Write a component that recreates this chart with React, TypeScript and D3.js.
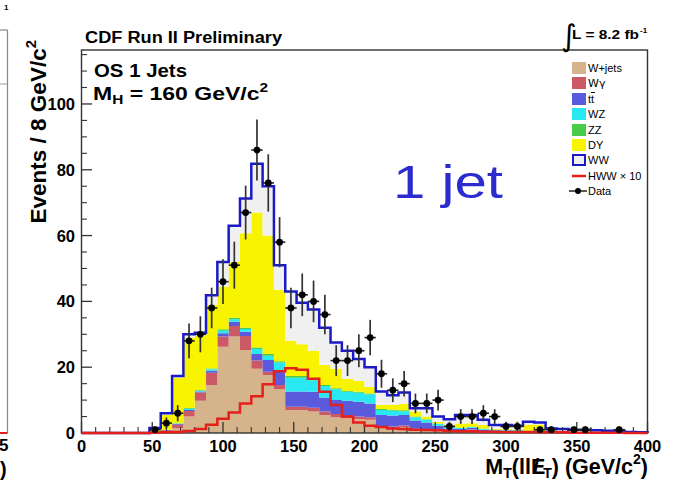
import React from 'react';
import * as d3 from 'd3';

// 8 GeV bins from 0 to 400 (lower edges)
const binLow = d3.range(0, 400, 8);
const binEdges = d3.range(0, 401, 8);

// Stacked backgrounds (events per bin), bottom to top
const wjets = [0,0,0,0,0,0, 0,0.3,1.5,5.0,9.8,14.6,26.2,29.3,25.2,19.5, 17.6,13.4,7.0,7.0,6.5,5.5,4.8,4.5,4.2,4.0, 1.5,1.5,1.8,1.0,0.8,0.5,0.3,0.3,1.0,0.2, 0.2,0.1,0.1,0.1,0.1,0.1,0,0,0,0, 0,0,0,0];
const wgamma = [0,0,0,0,0,0, 0,0.5,1.0,1.7,2.5,3.7,3.1,3.2,4.3,2.5, 1.0,1.2,1.0,1.0,1.2,1.0,1.0,1.0,0.8,0.8, 0.5,0.5,0.5,0.3,0.3,0.2,0.1,0.1,0.1,0.1, 0.1,0.1,0.1,0.1,0.1,0,0.1,0.1,0,0, 0,0,0,0];
const ttbar = [0,0,0,0,0,0, 0,0.1,0.2,0.3,0.3,0.6,1.0,1.3,1.3,2.0, 3.6,4.0,4.6,4.6,4.8,4.3,4.2,4.3,4.5,4.2, 3.5,3.3,3.2,2.5,2.1,1.5,1.0,0.8,0.5,0.7, 0.5,0.5,0.4,0.3,0.3,0.3,0.2,0.2,0.2,0.2, 0.1,0.1,0.1,0];
const wz = [0,0,0,0,0,0, 0,0.1,0.2,0.4,0.3,0.5,0.8,0.8,0.8,1.5, 1.3,2.8,4.2,4.2,3.5,3.5,3.3,2.7,2.7,2.8, 1.5,1.5,1.1,1.0,0.8,0.6,0.4,0.3,0.2,0.3, 0.2,0.2,0.2,0.1,0.1,0.1,0.1,0,0.1,0, 0.1,0,0,0];
const zz = [0,0,0,0,0,0, 0,0,0.1,0.2,0.2,0.2,0.4,0.4,0.4,0.5, 0.5,0.4,0.5,0.5,0.5,0.3,0.3,0.3,0.3,0.2, 0.3,0.3,0.3,0.2,0.2,0.1,0.1,0.1,0.1,0.1, 0.1,0.1,0.1,0.1,0.1,0,0,0,0,0, 0,0,0,0];
const dy = [0,0,0,0,0,0, 1.0,4.5,13.8,21.4,16.4,19.4,13.0,17.0,28.7,41.0, 36.0,21.7,10.7,9.7,8.5,6.1,5.9,3.7,3.3,2.0, 1.2,1.4,1.9,1.5,0.8,0.5,0.6,1.3,1.1,1.0, 0.2,0.2,0.1,1.9,1.9,0.2,0.1,0.1,0.1,0.1, 0.1,0.1,0,0.1];
const ww = [0,0,0,0,0,0, 0.5,0.5,0.5,1.0,1.0,2.9,7.5,11.0,10.6,14.8, 15.0,7.5,15.0,12.6,12.5,11.3,8.0,8.5,6.7,6.0, 4.1,3.0,3.5,1.0,2.5,1.6,1.7,2.6,2.5,1.6, 1.1,1.2,1.2,0.8,0.6,0.7,0.7,0.6,0.6,0.5, 0.4,0.4,0.2,0.1];

// Signal (x10)
const hww10 = [0,0,0,0,0,0, 0.1,0.2,0.3,0.6,1.2,2.5,4.3,6.2,9.0,11.2, 14.8,18.8,19.7,19.2,16.5,12.5,8.5,5.0,3.2,2.2, 1.8,1.4,1.2,1.0,0.9,0.8,0.6,0.5,0.5,0.4, 0.4,0.3,0.3,0.3,0.2,0.2,0.2,0.1,0.1,0.1, 0.1,0.1,0,0];

// Observed data (events per bin)
const dataCounts = [0,0,0,0,0,0, 1,3,6,28,30,38,46,51,67,86, 76,58,38,42,40,36,22,22,25,29, 18,13,15,9,9,10,2,5,5,6, 5,2,2,0,1,1,0,1,1,0, 0,1,0,0];

const seriesKeys = ['wjets', 'wgamma', 'ttbar', 'wz', 'zz', 'dy', 'ww'];
const seriesValues = [wjets, wgamma, ttbar, wz, zz, dy, ww];
const seriesColors = ['#d5b48c', '#cc5a66', '#5a5adc', '#2ae8f2', '#48cc48', '#f8f400', '#f0f0f0'];

const legendLabels = ['W+jets', 'Wγ', 'tt', 'WZ', 'ZZ', 'DY', 'WW', 'HWW × 10', 'Data'];

const yMajorTicks = [0, 20, 40, 60, 80, 100];
const xMajorTicks = [0, 50, 100, 150, 200, 250, 300, 350, 400];

const FONT = '"Liberation Sans", Arial, Helvetica, sans-serif';

export default function App() {
  const W = 674, H = 486;
  const x = d3.scaleLinear().domain([0, 400]).range([81.5, 647.5]);
  const y = d3.scaleLinear().domain([0, 116.4]).range([433, 50]);

  const rows = binLow.map((b, i) => {
    const r: any = { low: b };
    seriesKeys.forEach((k, j) => { r[k] = seriesValues[j][i]; });
    return r;
  });
  const stacked = d3.stack().keys(seriesKeys)(rows);

  const area = d3.area<[number, number, number]>()
    .x(d => x(d[0]))
    .y0(d => y(d[1]))
    .y1(d => y(d[2]))
    .curve(d3.curveStepAfter);

  const layerPoints = (layer: any): [number, number, number][] =>
    binEdges.map((e, i) => {
      const j = Math.min(i, binLow.length - 1);
      return [e, layer[j][0], layer[j][1]];
    });

  const stepLine = d3.line<[number, number]>()
    .x(d => x(d[0]))
    .y(d => y(d[1]))
    .curve(d3.curveStepAfter);

  const histPoints = (vals: number[]): [number, number][] => {
    const pts: [number, number][] = binEdges.map((e, i) => [e, vals[Math.min(i, vals.length - 1)]]);
    pts.push([400, 0]);
    return pts;
  };

  const totals = binLow.map((_, i) => seriesValues.reduce((s, v) => s + v[i], 0));

  const yMinor = d3.range(0, 116, 5).filter(v => v % 20 !== 0);
  const xMinor = d3.range(0, 401, 10).filter(v => v % 50 !== 0);

  const legendY = [68, 83, 99, 114, 130, 145, 160, 176, 191];
  const lgX = 572;

  return (
    <svg width={W} height={H} style={{ position: 'absolute', left: 0, top: 0, background: '#fff' }} fontFamily={FONT}>
      <rect x={0} y={0} width={W} height={H} fill="#fff" />

      {/* remnants of the neighbouring plot on the left */}
      <line x1={7.5} y1={30} x2={7.5} y2={433} stroke="#888" strokeWidth={1.2} />
      <line x1={0} y1={30} x2={7.5} y2={30} stroke="#888" strokeWidth={1.2} />
      <line x1={0} y1={84} x2={7.5} y2={84} stroke="#999" strokeWidth={1} />
      <line x1={0} y1={433} x2={7.5} y2={433} stroke="#e02020" strokeWidth={2} />
      <text x={4} y={10} fontSize={8} fontWeight="bold">1</text>
      <text x={-1} y={451} fontSize={17} fontWeight="bold">5</text>
      <text x={0} y={476} fontSize={20} fontWeight="bold">)</text>

      {/* stacked histograms */}
      {stacked.map((layer, k) => (
        <path key={seriesKeys[k]} d={area(layerPoints(layer)) || ''} fill={seriesColors[k]} stroke="none" />
      ))}

      {/* WW (total) outline */}
      <path d={stepLine(histPoints(totals)) || ''} fill="none" stroke="#1a1ac8" strokeWidth={2.5} />

      {/* frame */}
      <rect x={81.5} y={50} width={566} height={383} fill="none" stroke="#333" strokeWidth={1.4} />

      {/* y ticks */}
      {yMajorTicks.map(v => (
        <g key={'ym' + v}>
          <line x1={81.5} x2={92} y1={y(v)} y2={y(v)} stroke="#333" strokeWidth={1.3} />
          <text x={75} y={y(v) + 6} fontSize={16.5} fontWeight="bold" textAnchor="end">{v}</text>
        </g>
      ))}
      {yMinor.map(v => (
        <line key={'yn' + v} x1={81.5} x2={87} y1={y(v)} y2={y(v)} stroke="#333" strokeWidth={1.1} />
      ))}

      {/* x ticks */}
      {xMajorTicks.map(v => (
        <g key={'xm' + v}>
          <line x1={x(v)} x2={x(v)} y1={433} y2={422} stroke="#333" strokeWidth={1.3} />
          <text x={x(v)} y={452} fontSize={16.5} fontWeight="bold" textAnchor="middle">{v}</text>
        </g>
      ))}
      {xMinor.map(v => (
        <line key={'xn' + v} x1={x(v)} x2={x(v)} y1={433} y2={427} stroke="#333" strokeWidth={1.1} />
      ))}

      {/* signal x10 */}
      <path d={stepLine(histPoints(hww10)) || ''} fill="none" stroke="#e3201c" strokeWidth={2.5} />

      {/* data */}
      {dataCounts.map((n, i) => {
        if (n <= 0) return null;
        const c = binLow[i] + 4;
        const e = Math.sqrt(n);
        return (
          <g key={'d' + i}>
            <line x1={x(c)} x2={x(c)} y1={y(n + e)} y2={y(Math.max(0, n - e))} stroke="#333" strokeWidth={1.7} />
            <line x1={x(c - 4)} x2={x(c + 4)} y1={y(n)} y2={y(n)} stroke="#222" strokeWidth={1.6} />
            <circle cx={x(c)} cy={y(n)} r={3.4} fill="#000" />
          </g>
        );
      })}

      {/* titles */}
      <text x={85} y={43} fontSize={16} fontWeight="bold" textLength={197} lengthAdjust="spacingAndGlyphs">CDF Run II Preliminary</text>
      <text x={94} y={77} fontSize={17.5} fontWeight="bold" textLength={93} lengthAdjust="spacingAndGlyphs">OS 1 Jets</text>
      <text x={93} y={100} fontSize={18} fontWeight="bold" textLength={175} lengthAdjust="spacingAndGlyphs">
        M<tspan fontSize={12} dy={4}>H</tspan><tspan dy={-4}> = 160 GeV/c</tspan><tspan fontSize={12} dy={-8}>2</tspan>
      </text>

      {/* luminosity */}
      <text x={561} y={46} fontSize={30} fontFamily='"DejaVu Sans", sans-serif'>∫</text>
      <text x={572} y={39} fontSize={12.5} fontWeight="bold" textLength={67} lengthAdjust="spacingAndGlyphs">
        L = 8.2 fb
      </text>
      <text x={640} y={33} fontSize={8} fontWeight="bold">-1</text>

      {/* big annotation */}
      <text x={393} y={198} fontSize={46} fill="#2b2bd0" textLength={110} lengthAdjust="spacingAndGlyphs">1 jet</text>

      {/* axis titles */}
      <text transform="translate(46,40) rotate(-90)" fontSize={22.5} fontWeight="bold" textAnchor="end">
        Events / 8 GeV/c<tspan fontSize={15} dy={-10}>2</tspan>
      </text>
      <text x={648} y={474} fontSize={21.5} fontWeight="bold" textAnchor="end">
        M<tspan fontSize={14} dy={4}>T</tspan><tspan dy={-4}>(llE</tspan><tspan dx={-12}>/</tspan><tspan fontSize={14} dx={4} dy={4}>T</tspan><tspan dy={-4}>) (GeV/c</tspan><tspan fontSize={14} dy={-10}>2</tspan><tspan dy={10}>)</tspan>
      </text>

      {/* legend */}
      {seriesKeys.map((k, i) => (
        <g key={'lg' + k}>
          {k === 'ww' ? (
            <rect x={lgX + 1} y={legendY[i] - 5} width={12} height={10} fill={seriesColors[i]} stroke="#1a1ac8" strokeWidth={2} />
          ) : (
            <rect x={lgX} y={legendY[i] - 6} width={14} height={12} fill={seriesColors[i]} />
          )}
          <text x={588} y={legendY[i] + 4} fontSize={11} fontFamily={k === 'wgamma' ? '"DejaVu Sans", sans-serif' : FONT}>
            {legendLabels[i]}
          </text>
          {k === 'ttbar' && <line x1={591} x2={595} y1={legendY[i] - 6.5} y2={legendY[i] - 6.5} stroke="#000" strokeWidth={1} />}
        </g>
      ))}
      <line x1={lgX} x2={lgX + 14} y1={legendY[7]} y2={legendY[7]} stroke="#e3201c" strokeWidth={2.5} />
      <text x={588} y={legendY[7] + 4} fontSize={11}>{legendLabels[7]}</text>
      <line x1={lgX - 3} x2={lgX + 15} y1={legendY[8]} y2={legendY[8]} stroke="#222" strokeWidth={1.5} />
      <circle cx={lgX + 6} cy={legendY[8]} r={3} fill="#000" />
      <text x={588} y={legendY[8] + 4} fontSize={11}>{legendLabels[8]}</text>
    </svg>
  );
}
